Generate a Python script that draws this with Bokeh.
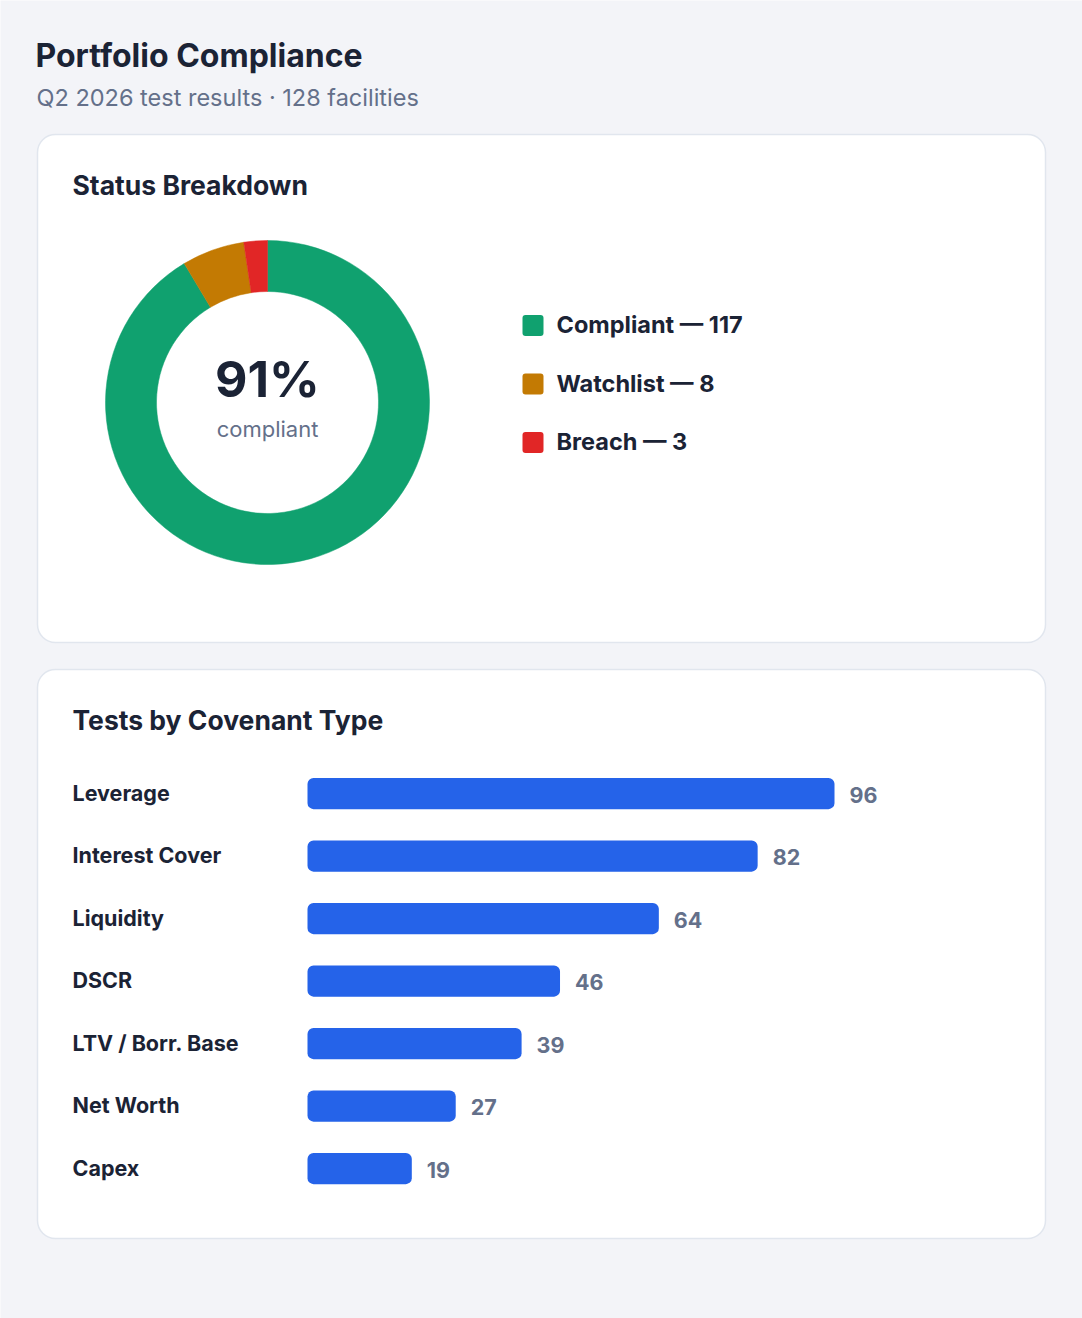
import math
from bokeh.plotting import figure
from bokeh.models import Range1d, Label
from bokeh.core.properties import value
from bokeh.embed import file_html
from bokeh.resources import INLINE

# ---------------- data ----------------
title_text = "Portfolio Compliance"
subtitle_text = "Q2 2026 test results · 128 facilities"

status_names = ["Compliant", "Watchlist", "Breach"]
status_counts = [117, 8, 3]
status_colors = ["#10a16f", "#c37a03", "#e12626"]

covenant_types = ["Leverage", "Interest Cover", "Liquidity", "DSCR",
                  "LTV / Borr. Base", "Net Worth", "Capex"]
covenant_tests = [96, 82, 64, 46, 39, 27, 19]
bar_color = "#2563e9"

# ---------------- layout constants ----------------
W, H = 1082, 1318
OFF = 0
FONT_NAME = "Inter"
FONT = value(FONT_NAME)
DARK = "#1b2335"
MUTED = "#64708a"
BG = "#f3f4f8"


def X(px):
    return px - OFF


def Y(py):
    return -(py - OFF)


# bar scale: value 0 at page x 307, 96 -> 834
bar_x0 = X(307)
bar_k = 527 / 96
# bar rows: first row centre at page y 793, pitch 62.5
row_y0 = 793 - OFF
row_pitch = 62.5

p = figure(width=W, height=H, output_backend="svg", toolbar_location=None,
           x_range=Range1d(0, W), y_range=Range1d(-H, 0),
           x_axis_location=None, y_axis_location=None,
           min_border=0, min_border_left=0, min_border_right=0,
           min_border_top=0, min_border_bottom=0)
p.background_fill_color = BG
p.border_fill_color = BG
p.outline_line_color = None
p.grid.visible = False

p.extra_x_ranges = {"bx": Range1d(-bar_x0 / bar_k, (W - bar_x0) / bar_k)}
p.extra_y_ranges = {"by": Range1d((H - row_y0) / row_pitch, -row_y0 / row_pitch)}

# ---------------- header ----------------
p.add_layout(Label(x=X(35), y=Y(55), text=title_text, text_font=FONT_NAME,
                   text_font_size="32px", text_font_style="bold",
                   text_color=DARK, text_baseline="middle"))
p.add_layout(Label(x=X(36), y=Y(97), text=subtitle_text, text_font=FONT_NAME,
                   text_font_size="23.5px", text_color=MUTED,
                   text_baseline="middle"))

# ---------------- cards ----------------
cards = [(37, 1045, 134, 642), (37, 1045, 669, 1238)]
p.quad(left=[X(c[0]) for c in cards], right=[X(c[1]) for c in cards],
       top=[Y(c[2]) for c in cards], bottom=[Y(c[3]) for c in cards],
       border_radius=18, fill_color="white", line_color="#e1e6ee",
       line_width=1.5)

p.text(x=[X(72), X(72)], y=[Y(184), Y(719)],
       text=["Status Breakdown", "Tests by Covenant Type"],
       text_font=FONT, text_font_size="26.5px", text_font_style="bold",
       text_color=DARK, text_baseline="middle")

# ---------------- donut ----------------
total = sum(status_counts)
starts, ends = [], []
cum = 0
for c in status_counts:
    starts.append(math.pi / 2 - 2 * math.pi * cum / total)
    cum += c
    ends.append(math.pi / 2 - 2 * math.pi * cum / total)

cx, cy = X(267), Y(402)
p.annular_wedge(x=cx, y=cy, inner_radius=111, outer_radius=162,
                start_angle=starts, end_angle=ends, direction="clock",
                fill_color=status_colors, line_color=status_colors,
                line_width=0.5)

pct = round(100 * status_counts[0] / total)
p.text(x=[cx], y=[Y(378)], text=[f"{pct}%"], text_font=FONT,
       text_font_size="50px", text_font_style="bold", text_color=DARK,
       text_align="center", text_baseline="middle")
p.text(x=[cx], y=[Y(428)], text=["compliant"], text_font=FONT,
       text_font_size="22px", text_color=MUTED,
       text_align="center", text_baseline="middle")

# legend
leg_y = [Y(325 + 58.5 * i) for i in range(len(status_names))]
p.quad(left=X(522), right=X(543), top=[y + 10.5 for y in leg_y],
       bottom=[y - 10.5 for y in leg_y], border_radius=3,
       fill_color=status_colors, line_color=None)
p.text(x=X(556), y=[y + 1 for y in leg_y],
       text=[f"{n} \u2014 {c}" for n, c in zip(status_names, status_counts)],
       text_font=FONT, text_font_size="23.5px", text_font_style="bold",
       text_color=DARK, text_baseline="middle")

# ---------------- bars ----------------
idx = list(range(len(covenant_types)))
p.hbar(y=idx, left=0, right=covenant_tests, height=0.5, border_radius=6,
       fill_color=bar_color, line_color=None,
       x_range_name="bx", y_range_name="by")
p.text(x=[X(72)] * len(idx), y=idx, text=covenant_types, text_font=FONT,
       text_font_size="21.5px", text_font_style="bold", text_color=DARK,
       text_baseline="middle", y_offset=-1, y_range_name="by")
p.text(x=covenant_tests, y=idx, text=[str(v) for v in covenant_tests],
       x_offset=15, y_offset=1, text_font=FONT, text_font_size="21.5px",
       text_font_style="bold", text_color=MUTED, text_baseline="middle",
       x_range_name="bx", y_range_name="by")

open("out.html", "w").write(file_html(p, INLINE))
